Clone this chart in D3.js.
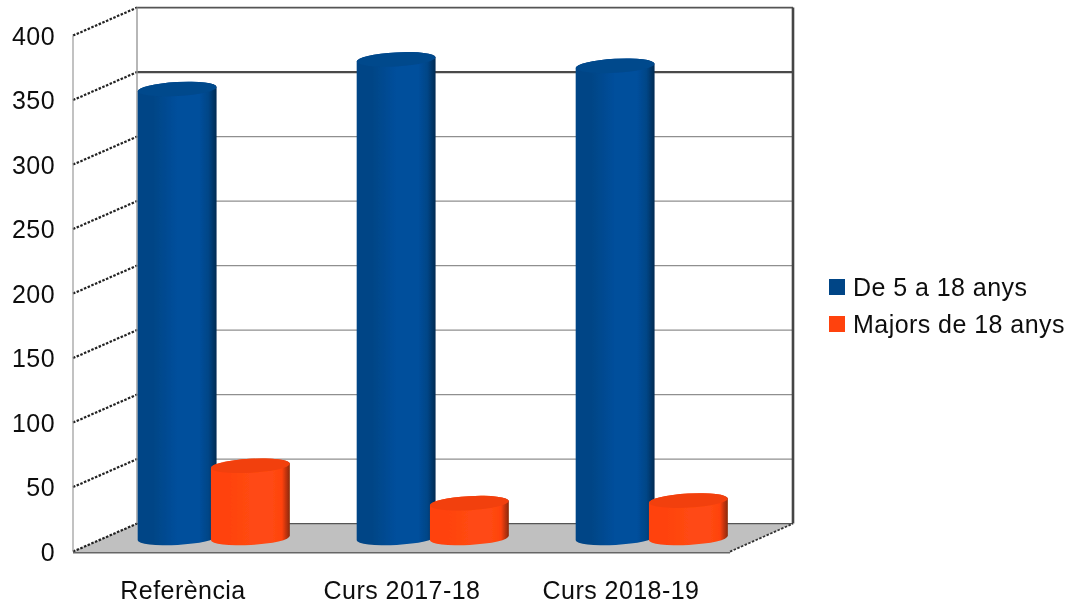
<!DOCTYPE html>
<html><head><meta charset="utf-8">
<script src="https://cdn.jsdelivr.net/npm/d3@7/dist/d3.min.js"></script>
<style>html,body{margin:0;padding:0;background:#fff}svg{display:block}text{font-family:"Liberation Sans",Arial,sans-serif;fill:#111}</style>
</head><body><svg id="c" width="1079" height="607"></svg>
<script>
const categories = ["Referència","Curs 2017-18","Curs 2018-19"];
const seriesNames = ["De 5 a 18 anys","Majors de 18 anys"];
const youth = [348,371,366];
const adults = [56,27,29];
const yTicks = [0,50,100,150,200,250,300,350,400];
const colors = ["#004586","#ff420e"];
const darks = ["#002a52","#8a2806"];
const mids = ["#004f9c","#ff4a12"];
const tops = ["#00488c","#f2400c"];

const svg = d3.select("#c");
const W = {l:73,r:730,t:35.6,b:551.6,dx:64,dy:-28};
const x = d3.scaleBand().domain(categories).range([W.l,W.r]);
const sub = d3.scaleBand().domain(seriesNames).range([67.5,214]);
const y = d3.scaleLinear().domain([0,400]).range([W.b,W.t]);
const defs = svg.append("defs");
colors.forEach((c,i)=>{
  const g = defs.append("linearGradient").attr("id","g"+i);
  [[0,c],[.2,c],[.5,mids[i]],[.78,mids[i]],[.9,c],[1,darks[i]]].forEach(s=>g.append("stop").attr("offset",s[0]).attr("stop-color",s[1]));
});
const soft = defs.append("filter").attr("id","soft").attr("x","-5%").attr("y","-5%").attr("width","110%").attr("height","110%");
soft.append("feGaussianBlur").attr("stdDeviation",0.6);
const softText = defs.append("filter").attr("id","softT");
softText.append("feGaussianBlur").attr("stdDeviation",0.35);

const chart = svg.append("g").attr("filter","url(#soft)");
// floor
chart.append("path").attr("fill","#c0c0c0")
 .attr("d",d3.line()([[W.l,W.b],[W.l+W.dx,W.b+W.dy],[W.r+W.dx-1,W.b+W.dy],[W.r,W.b]])+"Z");
// gridlines
yTicks.forEach(t=>{
  const strong = t===350||t===400;
  chart.append("line").attr("x1",W.l+W.dx).attr("x2",W.r+W.dx-1).attr("y1",y(t)+W.dy).attr("y2",y(t)+W.dy)
   .attr("stroke",t===350?"#4a4a4a":(t===400||t===0)?"#555":"#8f8f8f").attr("stroke-width",t===350?2.2:strong?1.6:1.3);
  chart.append("line").attr("x1",W.l).attr("x2",W.l+W.dx).attr("y1",y(t)).attr("y2",y(t)+W.dy)
   .attr("stroke","#222").attr("stroke-width",2.2).attr("stroke-dasharray","2.5 1.5");
});
// wall verticals
chart.append("line").attr("x1",W.l).attr("x2",W.l).attr("y1",y(400)).attr("y2",y(0)).attr("stroke","#999").attr("stroke-width",1.2);
chart.append("line").attr("x1",W.l+W.dx).attr("x2",W.l+W.dx).attr("y1",y(400)+W.dy).attr("y2",y(0)+W.dy).attr("stroke","#999").attr("stroke-width",1.4);
chart.append("line").attr("x1",W.r+W.dx-1).attr("x2",W.r+W.dx-1).attr("y1",y(400)+W.dy).attr("y2",y(0)+W.dy).attr("stroke","#444").attr("stroke-width",2.6);
// floor diagonal and front edge
chart.append("line").attr("x1",W.r).attr("x2",W.r+W.dx-1).attr("y1",W.b).attr("y2",W.b+W.dy).attr("stroke","#333").attr("stroke-width",1.8).attr("stroke-dasharray","2.5 1.5");
chart.append("line").attr("x1",W.l).attr("x2",W.r).attr("y1",W.b+1).attr("y2",W.b+1).attr("stroke","#666").attr("stroke-width",1.6);

// cylinders
const rx = 39.5, ry = 7, tilt = -3.2, lift = 13.6;
const rad = tilt*Math.PI/180;
function cyl(cx,yTop,yBot,i){
  const dxE = rx*Math.cos(rad), dyE = rx*Math.sin(rad);
  const g = chart.append("g");
  const A=`A${rx} ${ry} ${tilt} 0`;
  g.append("path").attr("fill",`url(#g${i})`)
   .attr("d",`M${cx-dxE} ${yTop-dyE}L${cx-dxE} ${yBot-dyE}${A} 0 ${cx+dxE} ${yBot+dyE}L${cx+dxE} ${yTop+dyE}${A} 0 ${cx-dxE} ${yTop-dyE}Z`);
  g.append("ellipse").attr("rx",rx).attr("ry",ry).attr("fill",tops[i])
   .attr("transform",`translate(${cx},${yTop}) rotate(${tilt})`);
}
categories.forEach(c=>{
  const k = categories.indexOf(c);
  [youth,adults].forEach((arr,i)=>{
    const cx = x(c)+sub(seriesNames[i])+sub.bandwidth()/2;
    cyl(cx,y(arr[k])-lift,y(0)-lift,i);
  });
});

// labels
const labels = svg.append("g").attr("filter","url(#softT)").attr("font-size",25).attr("letter-spacing",0.45);
labels.selectAll("text.y").data(yTicks).join("text").attr("class","y")
 .attr("x",55).attr("y",d=>y(d)).attr("dy","0.36em").attr("text-anchor","end").text(d=>d);
labels.selectAll("text.x").data(categories).join("text").attr("class","x")
 .attr("x",d=>x(d)+x.bandwidth()/2+0.5).attr("y",598.5).attr("text-anchor","middle").text(d=>d);
const ly = d3.scalePoint().domain(seriesNames).range([287,324]);
seriesNames.forEach((s,i)=>{
  labels.append("rect").attr("x",829).attr("y",ly(s)-8).attr("width",16).attr("height",16).attr("fill",colors[i]);
  labels.append("text").attr("x",853).attr("y",ly(s)).attr("dy","0.36em").text(s);
});
</script></body></html>
